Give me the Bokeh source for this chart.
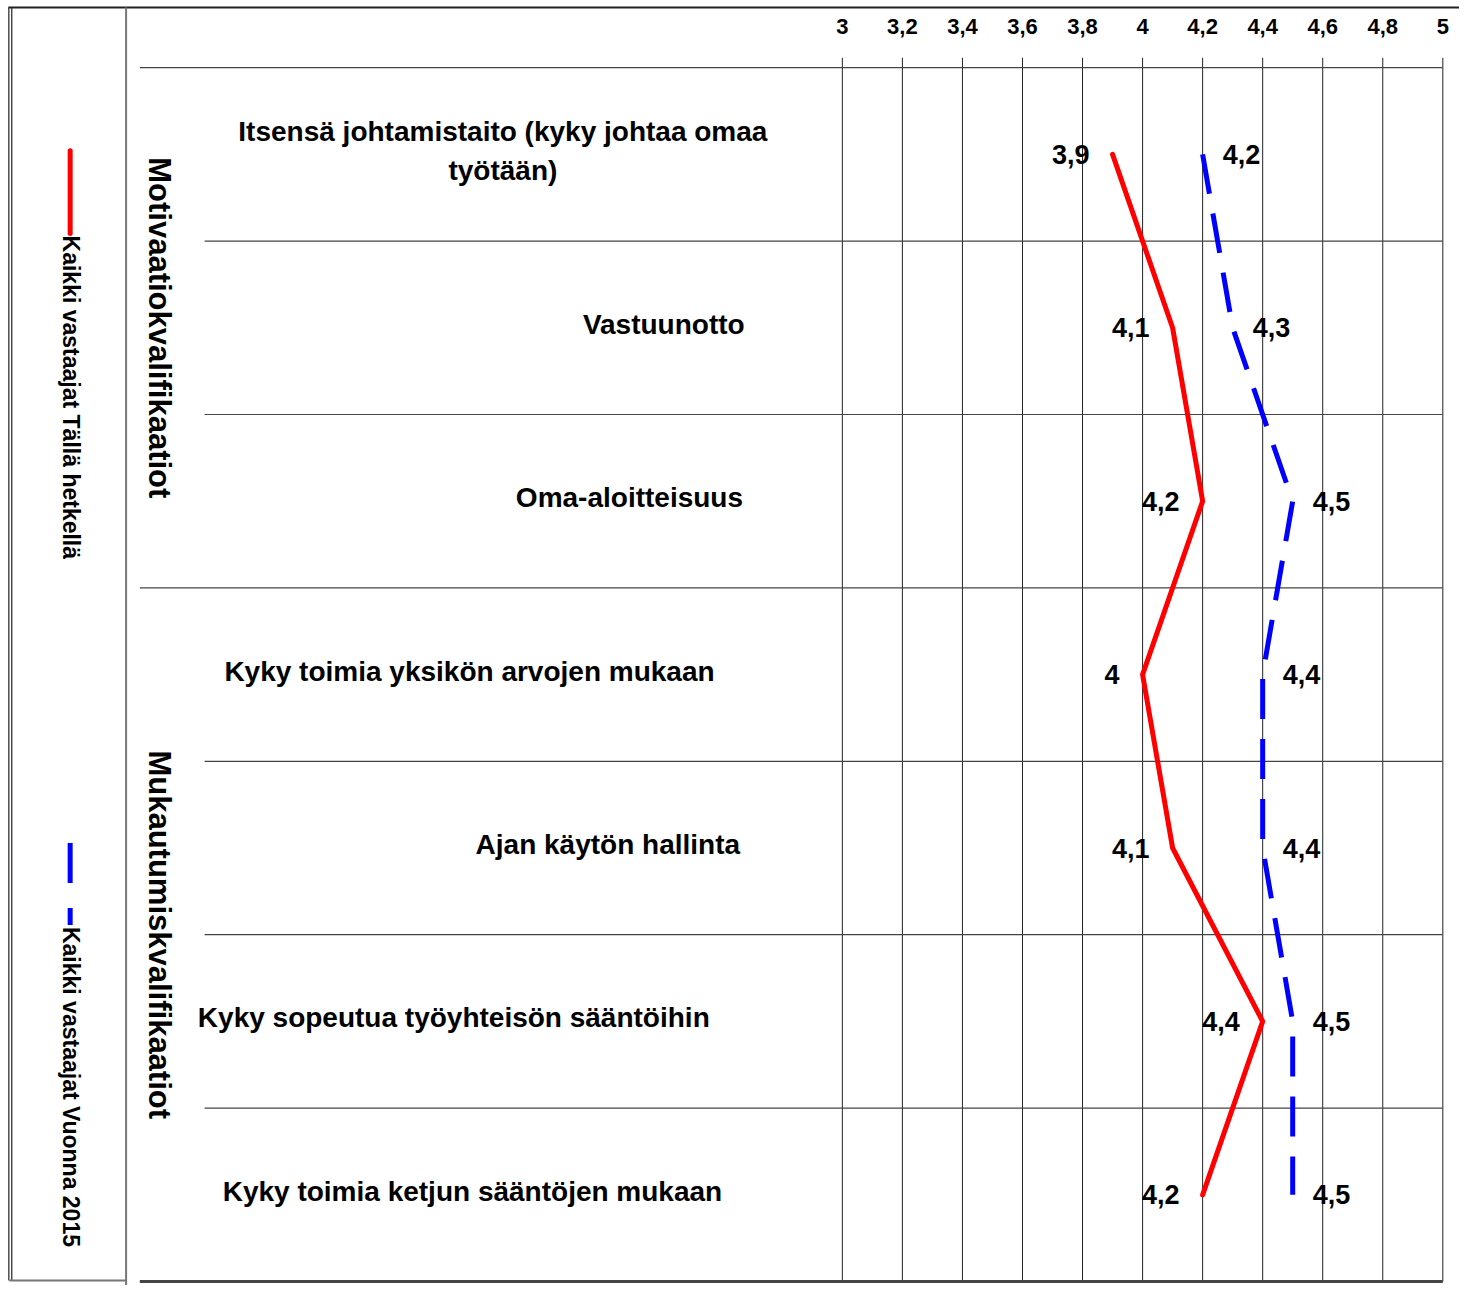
import math
from bokeh.plotting import figure
from bokeh.models import Range1d
from bokeh.core.properties import value
from bokeh.embed import file_html
from bokeh.resources import INLINE

# ---------------- data ----------------
categories = [
    "Itsensä johtamistaito (kyky johtaa omaa\ntyötään)",
    "Vastuunotto",
    "Oma-aloitteisuus",
    "Kyky toimia yksikön arvojen mukaan",
    "Ajan käytön hallinta",
    "Kyky sopeutua työyhteisön sääntöihin",
    "Kyky toimia ketjun sääntöjen mukaan",
]
groups = ["Motivaatiokvalifikaatiot", "Mukautumiskvalifikaatiot"]
group_sizes = [3, 4]
series_names = ["Kaikki vastaajat Tällä hetkellä", "Kaikki vastaajat Vuonna 2015"]
values_now = [3.9, 4.1, 4.2, 4.0, 4.1, 4.4, 4.2]
values_2015 = [4.2, 4.3, 4.5, 4.4, 4.4, 4.5, 4.5]
ticks = [3.0, 3.2, 3.4, 3.6, 3.8, 4.0, 4.2, 4.4, 4.6, 4.8, 5.0]
tick_labels = ["3", "3,2", "3,4", "3,6", "3,8", "4", "4,2", "4,4", "4,6", "4,8", "5"]

# ---------------- layout (reference-pixel design grid, scaled to figure) ----------------
W, H = 1459, 1285
REF_W, REF_H = 1475, 1301
RIGHT_PAD = 12
X3_PX, X5_PX = 858, 1470
K = (X5_PX - X3_PX) / (ticks[-1] - ticks[0])
HEAD_PX, BOTTOM_PX = 68, 1297
N = len(categories)
RH = (BOTTOM_PX - HEAD_PX) / N


def xd(px):
    return ticks[0] + (px - X3_PX) / K


def yd(py):
    return -0.5 + (py - HEAD_PX) / RH


FONT = value("Liberation Sans")
rows = list(range(N))

p = figure(
    width=W, height=H,
    x_range=Range1d(xd(0), xd(REF_W + RIGHT_PAD)),
    y_range=Range1d(yd(REF_H), yd(0)),
    x_axis_type=None, y_axis_type=None,
    output_backend="svg", toolbar_location=None,
    min_border=0, outline_line_color=None,
)
p.xgrid.visible = False
p.ygrid.visible = False
p.background_fill_color = "white"
p.border_fill_color = "white"

# frame lines
p.segment(x0=[xd(8)], y0=[yd(7)], x1=[xd(REF_W + RIGHT_PAD)], y1=[yd(7)], line_color="#222222", line_width=2)
p.segment(x0=[xd(8.5), xd(11.5)], y0=[yd(7)] * 2, x1=[xd(8.5), xd(11.5)], y1=[yd(1296)] * 2,
          line_color="#222222", line_width=1.2)
p.segment(x0=[xd(128)], y0=[yd(7)], x1=[xd(128)], y1=[yd(1301)], line_color="#777777", line_width=2)
p.segment(x0=[xd(9)], y0=[yd(1296)], x1=[xd(128)], y1=[yd(1296)], line_color="#777777", line_width=2)

# vertical grid lines at ticks
p.segment(x0=ticks, y0=[yd(58)] * len(ticks), x1=ticks, y1=[N - 0.5] * len(ticks),
          line_color="#222222", line_width=1)

# tick labels (top)
p.text(x=ticks, y=[yd(26)] * len(ticks), text=tick_labels,
       text_font=FONT, text_font_style="bold", text_font_size=value("22px"),
       text_align="center", text_baseline="middle", text_color="black")

# header line and row separators
group_bounds = []
acc = 0
for g in group_sizes:
    acc += g
    group_bounds.append(acc)
sep_x0, sep_y = [], []
for i in range(1, N):
    sep_y.append(i - 0.5)
    sep_x0.append(xd(142) if i in group_bounds else xd(208))
p.segment(x0=[xd(142)] + sep_x0, y0=[-0.5] + sep_y, x1=[ticks[-1]] * (len(sep_y) + 1),
          y1=[-0.5] + sep_y, line_color="#444444", line_width=1.2)
p.segment(x0=[xd(142)], y0=[N - 0.5], x1=[ticks[-1]], y1=[N - 0.5],
          line_color="#444444", line_width=3)

# category labels
cat_x_px = [512, 676, 641, 478, 619, 462, 481]
p.text(x=[xd(v) for v in cat_x_px], y=[r - 0.02 for r in rows], text=categories,
       text_font=FONT, text_font_style="bold", text_font_size=value("28px"),
       text_align="center", text_baseline="middle", text_color="black",
       text_line_height=1.24)

# group labels (rotated)
g_centers = []
start = 0
for g in group_sizes:
    g_centers.append(start + (g - 1) / 2)
    start += g
p.text(x=[xd(162)] * len(groups), y=g_centers, text=groups, angle=-math.pi / 2,
       text_font=FONT, text_font_style="bold", text_font_size=value("31px"),
       text_align="center", text_baseline="middle", text_color="black")

# series lines
p.line(values_now, rows, line_color="#FF0000", line_width=5, line_cap="round", line_join="round")
p.line(values_2015, rows, line_color="#0000FF", line_width=5, line_dash="40 20")


def fmt(v):
    return f"{v:g}".replace(".", ",")


p.text(x=values_now, y=rows, text=[fmt(v) for v in values_now], x_offset=-23,
       text_font=FONT, text_font_style="bold", text_font_size=value("27px"),
       text_align="right", text_baseline="middle", text_color="black")
p.text(x=values_2015, y=rows, text=[fmt(v) for v in values_2015], x_offset=20,
       text_font=FONT, text_font_style="bold", text_font_size=value("27px"),
       text_align="left", text_baseline="middle", text_color="black")

# legend (rotated)
p.segment(x0=[xd(71)], y0=[yd(152)], x1=[xd(71)], y1=[yd(236)],
          line_color="#FF0000", line_width=5, line_cap="round")
p.segment(x0=[xd(71)], y0=[yd(853)], x1=[xd(71)], y1=[yd(936)],
          line_color="#0000FF", line_width=5, line_dash="40 25")
p.text(x=[xd(72), xd(72)], y=[yd(238), yd(938)], text=series_names, angle=-math.pi / 2,
       text_font=FONT, text_font_style="bold", text_font_size=value("23px"),
       text_align="left", text_baseline="middle", text_color="black")

open("out.html", "w").write(file_html(p, INLINE))
